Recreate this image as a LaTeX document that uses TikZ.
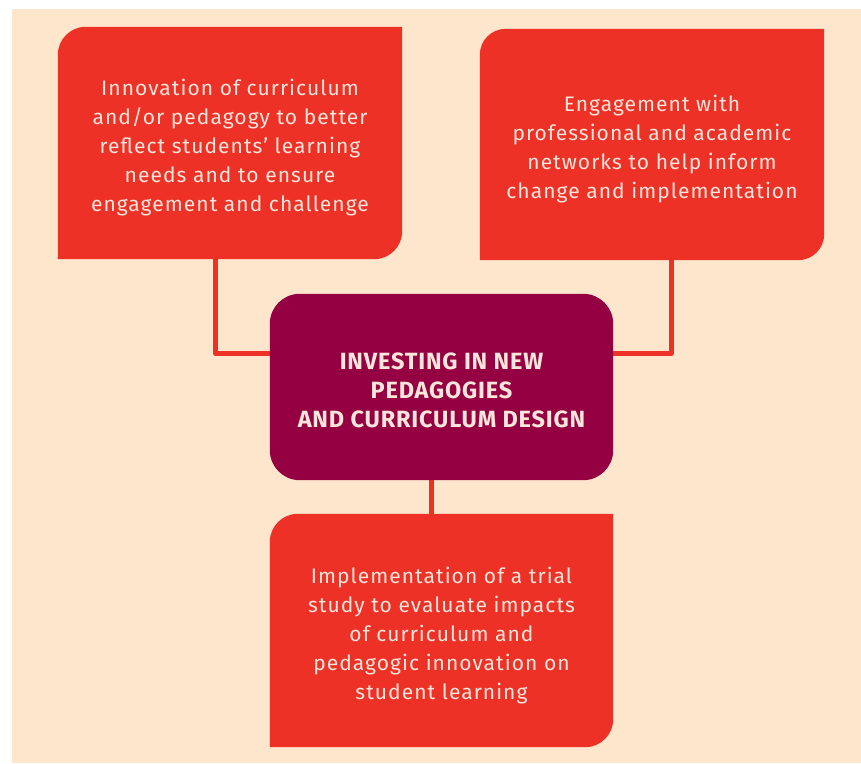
\documentclass[tikz,border=0pt]{standalone}
\usepackage{fontspec}
\setmainfont{Fira Sans}
\usetikzlibrary{backgrounds}
\definecolor{bgbeige}{HTML}{FEE6CC}
\definecolor{boxred}{HTML}{EE3126}
\definecolor{boxmaroon}{HTML}{940041}
\definecolor{txtpink}{HTML}{FCE5DA}
\begin{document}
\begin{tikzpicture}[x=1pt,y=1pt,
  leafbox/.style={inner sep=0pt, minimum width=344pt, minimum height=232pt},
  hubbox/.style={inner sep=0pt, minimum width=343pt, minimum height=186pt},
  leaftext/.style={inner sep=0pt, text=txtpink, align=center, font=\fontsize{21}{29}\selectfont\addfontfeatures{LetterSpace=5}},
  hubtext/.style={inner sep=0pt, text=txtpink, align=center, font=\bfseries\fontsize{23.5}{29}\selectfont\addfontfeatures{LetterSpace=3.5}},
  conn/.style={draw=boxred, line width=5pt, line join=round}]
\useasboundingbox (0,0) rectangle (861,763);

\node[leafbox] (b1) at (230,620) {};
\node[leafbox, minimum height=231pt] (b2) at (652,618.5) {};
\node[hubbox] (c) at (441.5,376) {};
\node[leafbox, minimum width=343pt, minimum height=233pt] (b3) at (441.5,132.5) {};

\node[leaftext] (t1) at ([yshift=-5pt]b1.center) {Innovation of curriculum\\and/or pedagogy to better\\reflect students’ learning\\needs and to ensure\\engagement and challenge};
\node[leaftext] (t2) at ([yshift=-5pt]b2.center) {Engagement with\\professional and academic\\networks to help inform\\change and implementation};
\node[hubtext] (tc) at ([yshift=-3pt]c.center) {INVESTING IN NEW\\PEDAGOGIES\\AND CURRICULUM DESIGN};
\node[leaftext] (t3) at ([yshift=-5pt]b3.center) {Implementation of a trial\\study to evaluate impacts\\of curriculum and\\pedagogic innovation on\\student learning};

\coordinate (lj) at (215.5,409.5);
\coordinate (rj) at (671,409.5);
\coordinate (bj) at (431.5,376);

\begin{scope}[on background layer]
  \fill[white] (0,0) rectangle (861,763);
  \fill[bgbeige] (12,0) rectangle (861,754);
  \draw[conn] (lj |- b1.south) |- (lj -| c.west);
  \draw[conn] (rj |- b2.south) |- (rj -| c.east);
  \draw[conn] (bj |- c.south) -- (bj |- b3.north);
  % leaf boxes: top-left and bottom-right corners rounded
  \fill[boxred] (b1.south west) -- ([yshift=-28pt]b1.north west) arc[start angle=180,end angle=90,radius=28pt]
     -- (b1.north east) -- ([yshift=28pt]b1.south east) arc[start angle=0,end angle=-90,radius=28pt] -- cycle;
  \fill[boxred] (b2.south west) -- ([yshift=-26pt]b2.north west) arc[start angle=180,end angle=90,radius=26pt]
     -- (b2.north east) -- ([yshift=26pt]b2.south east) arc[start angle=0,end angle=-90,radius=26pt] -- cycle;
  \fill[boxred] (b3.south west) -- ([yshift=-28pt]b3.north west) arc[start angle=180,end angle=90,radius=28pt]
     -- (b3.north east) -- ([yshift=28pt]b3.south east) arc[start angle=0,end angle=-90,radius=28pt] -- cycle;
  \fill[boxmaroon, rounded corners=30pt] (c.south west) rectangle (c.north east);
\end{scope}
\end{tikzpicture}
\end{document}
